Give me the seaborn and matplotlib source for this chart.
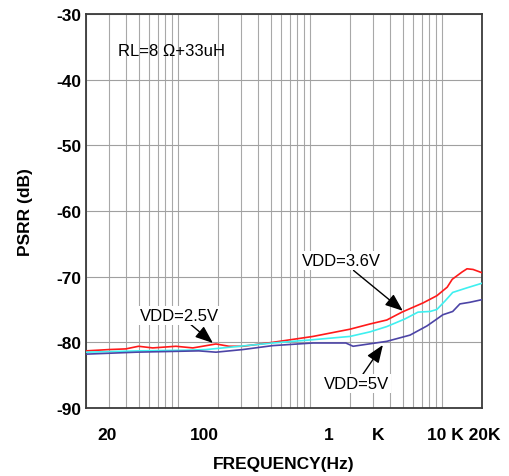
import pandas as pd
import matplotlib
matplotlib.use('Agg')
import matplotlib.pyplot as plt
import seaborn as sns
from matplotlib.ticker import FixedLocator, NullFormatter

# PSRR vs frequency, RL=8 ohm + 33uH
freq_red = [20, 30, 40, 50, 64, 96, 129, 193, 242, 308, 520, 1050, 2000, 2840,
            3800, 4950, 7150, 9100, 10900, 11900, 14100, 15400, 17100, 20000]
psrr_red = [-81.3, -81.1, -81.0, -80.6, -80.85, -80.6, -80.85, -80.25, -80.6, -80.6, -80.0, -79.1, -78.0, -77.2,
            -76.6, -75.4, -74.0, -72.9, -71.6, -70.4, -69.3, -68.8, -68.9, -69.4]

freq_cyan = [20, 50, 114, 162, 218, 308, 520, 1050, 2000, 2840, 3800, 5200,
             6550, 8075, 9100, 10500, 12000, 15400, 20000]
psrr_cyan = [-81.5, -81.3, -81.2, -81.1, -80.85, -80.55, -80.1, -79.6, -79.1, -78.4, -77.6, -76.45,
             -75.4, -75.3, -75.0, -73.7, -72.4, -71.7, -71.0]

freq_navy = [20, 48, 143, 193, 308, 520, 1050, 1860, 2110, 3800, 5700, 7660,
             9100, 10100, 12000, 13600, 16200, 20000]
psrr_navy = [-81.8, -81.5, -81.3, -81.5, -81.1, -80.5, -80.1, -80.1, -80.6, -79.85, -78.9, -77.5,
             -76.45, -75.8, -75.3, -74.15, -73.9, -73.5]

series = ['red', 'cyan', 'navy']
colors = {'red': '#ff1a1a', 'cyan': '#3ff0f0', 'navy': '#4c44a6'}

yticks = [-90, -80, -70, -60, -50, -40, -30]
xlabel_pos = [28.8, 158, 1387, 3263, 14500]
xlabel_txt = ['20', '100', '1', 'K', '10 K 20K']
grid_freqs = [m * 10 ** k for k in range(1, 5) for m in range(1, 10)]

df = pd.concat([
    pd.DataFrame({'freq': freq_red, 'psrr': psrr_red, 'vdd': 'red'}),
    pd.DataFrame({'freq': freq_cyan, 'psrr': psrr_cyan, 'vdd': 'cyan'}),
    pd.DataFrame({'freq': freq_navy, 'psrr': psrr_navy, 'vdd': 'navy'}),
])

sns.set_style('white')
plt.rcParams['font.family'] = ['Liberation Sans', 'DejaVu Sans']
plt.rcParams['text.color'] = 'black'
plt.rcParams['axes.labelcolor'] = 'black'

fig = plt.figure(figsize=(5.1, 4.77), dpi=100)
ax = fig.add_axes([86 / 510, 1 - 409 / 477, 396 / 510, 394 / 477])

sns.lineplot(data=df, x='freq', y='psrr', hue='vdd', hue_order=series,
             palette=colors, legend=False, lw=1.2, ax=ax, zorder=3)

ax.set_xscale('log')
ax.set_xlim(20, 20000)
ax.set_ylim(-90, -30)
ax.set_yticks(yticks)
ax.set_yticklabels([str(v) for v in yticks], fontweight='bold')

ax.xaxis.set_major_locator(FixedLocator(xlabel_pos))
ax.set_xticklabels(xlabel_txt, fontweight='bold')
ax.xaxis.set_minor_locator(FixedLocator(grid_freqs))
ax.xaxis.set_minor_formatter(NullFormatter())

ax.grid(False)
ax.grid(which='minor', axis='x', color='#a8a8a8', lw=0.8)
ax.grid(which='major', axis='y', color='#a0a0a0', lw=0.8)

ax.tick_params(axis='both', which='both', length=0, labelsize=12.5, colors='black')
ax.tick_params(axis='x', which='major', pad=14)
ax.tick_params(axis='y', pad=3)

for sp in ax.spines.values():
    sp.set_color('#3a3a3a')
    sp.set_linewidth(1.3)

ax.set_xlabel('FREQUENCY(Hz)', fontsize=12.5, fontweight='bold', labelpad=10)
ax.set_ylabel('PSRR (dB)', fontsize=12.5, fontweight='bold', labelpad=17)

ax.text(35, -35.6, 'RL=8 \u03a9+33uH', fontsize=12, ha='left', va='center')

arrow = dict(arrowstyle='-|>,head_length=0.9,head_width=0.35', color='black', lw=1, shrinkA=0, shrinkB=0)
box = dict(facecolor='white', edgecolor='none', pad=1.5)
ax.annotate('VDD=3.6V', xy=(5025, -75.2), xytext=(1737, -67.6), fontsize=12,
            ha='center', va='center', bbox=box, arrowprops=arrow)
ax.annotate('VDD=2.5V', xy=(183, -80.1), xytext=(102, -75.84), fontsize=12,
            ha='center', va='center', bbox=box, arrowprops=arrow)
ax.annotate('VDD=5V', xy=(3550, -80.4), xytext=(2237, -86.3), fontsize=12,
            ha='center', va='center', bbox=box, arrowprops=arrow)

fig.savefig('out.png', dpi=100)
